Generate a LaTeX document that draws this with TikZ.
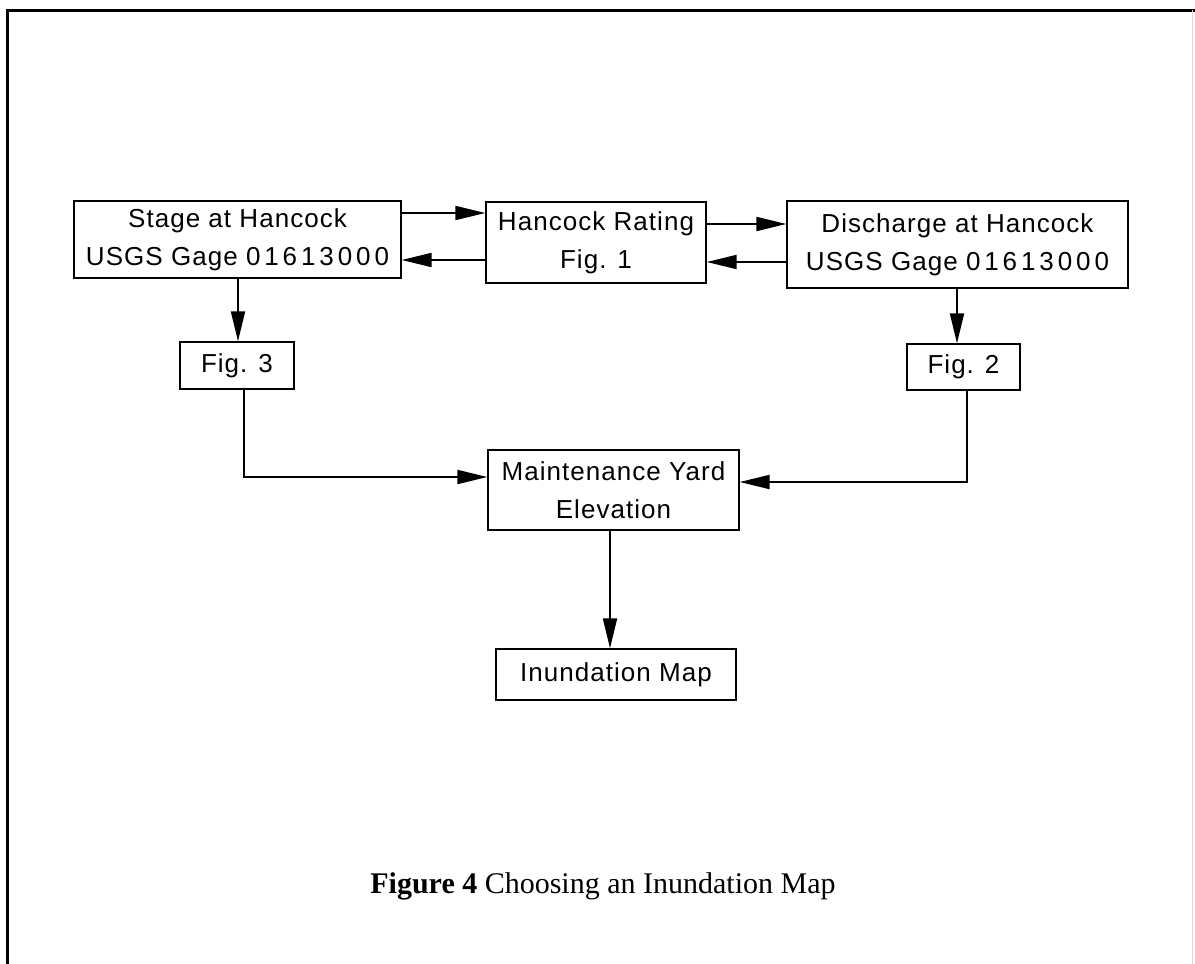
\documentclass[tikz,border=0pt]{standalone}
\usepackage{fontspec}
\setmainfont{Liberation Serif}
\newfontfamily\boxfont[LetterSpace=4]{Liberation Sans}
\newfontfamily\digfont[LetterSpace=15]{Liberation Sans}
\usetikzlibrary{arrows.meta}
\tikzset{
  blk/.style={draw=black, line width=1.4pt, fill=white, inner sep=0pt, align=center,
    font=\boxfont\fontsize{26}{38}\selectfont},
  conn/.style={draw=black, line width=2pt, -{Triangle[length=30pt,width=14pt]}},
}
\begin{document}
\begin{tikzpicture}[x=1pt,y=-1pt]
\useasboundingbox (0,0) rectangle (1195,964);
\fill[white] (0,0) rectangle (1195,964);
% frame
\draw[line width=3pt] (7,964) -- (7,10) -- (1195,10);
\draw[line width=1pt, black!15] (1192,10) -- (1192,964);
% nodes
\node[blk, minimum width=327pt, minimum height=77pt] (stage) at (237.5,239.5) {Stage at Hancock\\USGS Gage {\digfont 01613000}};
\node[blk, minimum width=220pt, minimum height=81pt] (rating) at (596,242.5) {Hancock Rating\\Fig. 1};
\node[blk, minimum width=341pt, minimum height=87pt] (dis) at (957.5,244.5) {Discharge at Hancock\\USGS Gage {\digfont 01613000}};
\node[blk, minimum width=114pt, minimum height=47pt] (fig3) at (237,365.5) {Fig. 3};
\node[blk, minimum width=113pt, minimum height=46pt] (fig2) at (963.5,367) {Fig. 2};
\node[blk, minimum width=251pt, minimum height=80pt] (maint) at (613.5,490) {Maintenance Yard\\Elevation};
\node[blk, minimum width=240pt, minimum height=51pt] (inund) at (616,674.5) {Inundation Map};
% connectors
\draw[conn] (stage.east |- 0,213) -- (rating.west |- 0,213);
\draw[conn] (rating.west |- 0,260) -- (stage.east |- 0,260);
\draw[conn] (rating.east |- 0,224) -- (dis.west |- 0,224);
\draw[conn] (dis.west |- 0,262) -- (rating.east |- 0,262);
\draw[conn] (stage.south -| 238,0) -- (fig3.north -| 238,0);
\draw[conn] (dis.south -| 957,0) -- (fig2.north -| 957,0);
\draw[conn] (fig3.south -| 244,0) |- (maint.west |- 0,477);
\draw[conn] (fig2.south -| 967,0) |- (maint.east |- 0,482);
\draw[conn] (maint.south -| 610,0) -- (inund.north -| 610,0);
% caption
\node[font=\fontsize{30}{36}\selectfont, anchor=base] (cap) at (603,893) {\textbf{Figure 4} Choosing an Inundation Map};
\end{tikzpicture}
\end{document}
